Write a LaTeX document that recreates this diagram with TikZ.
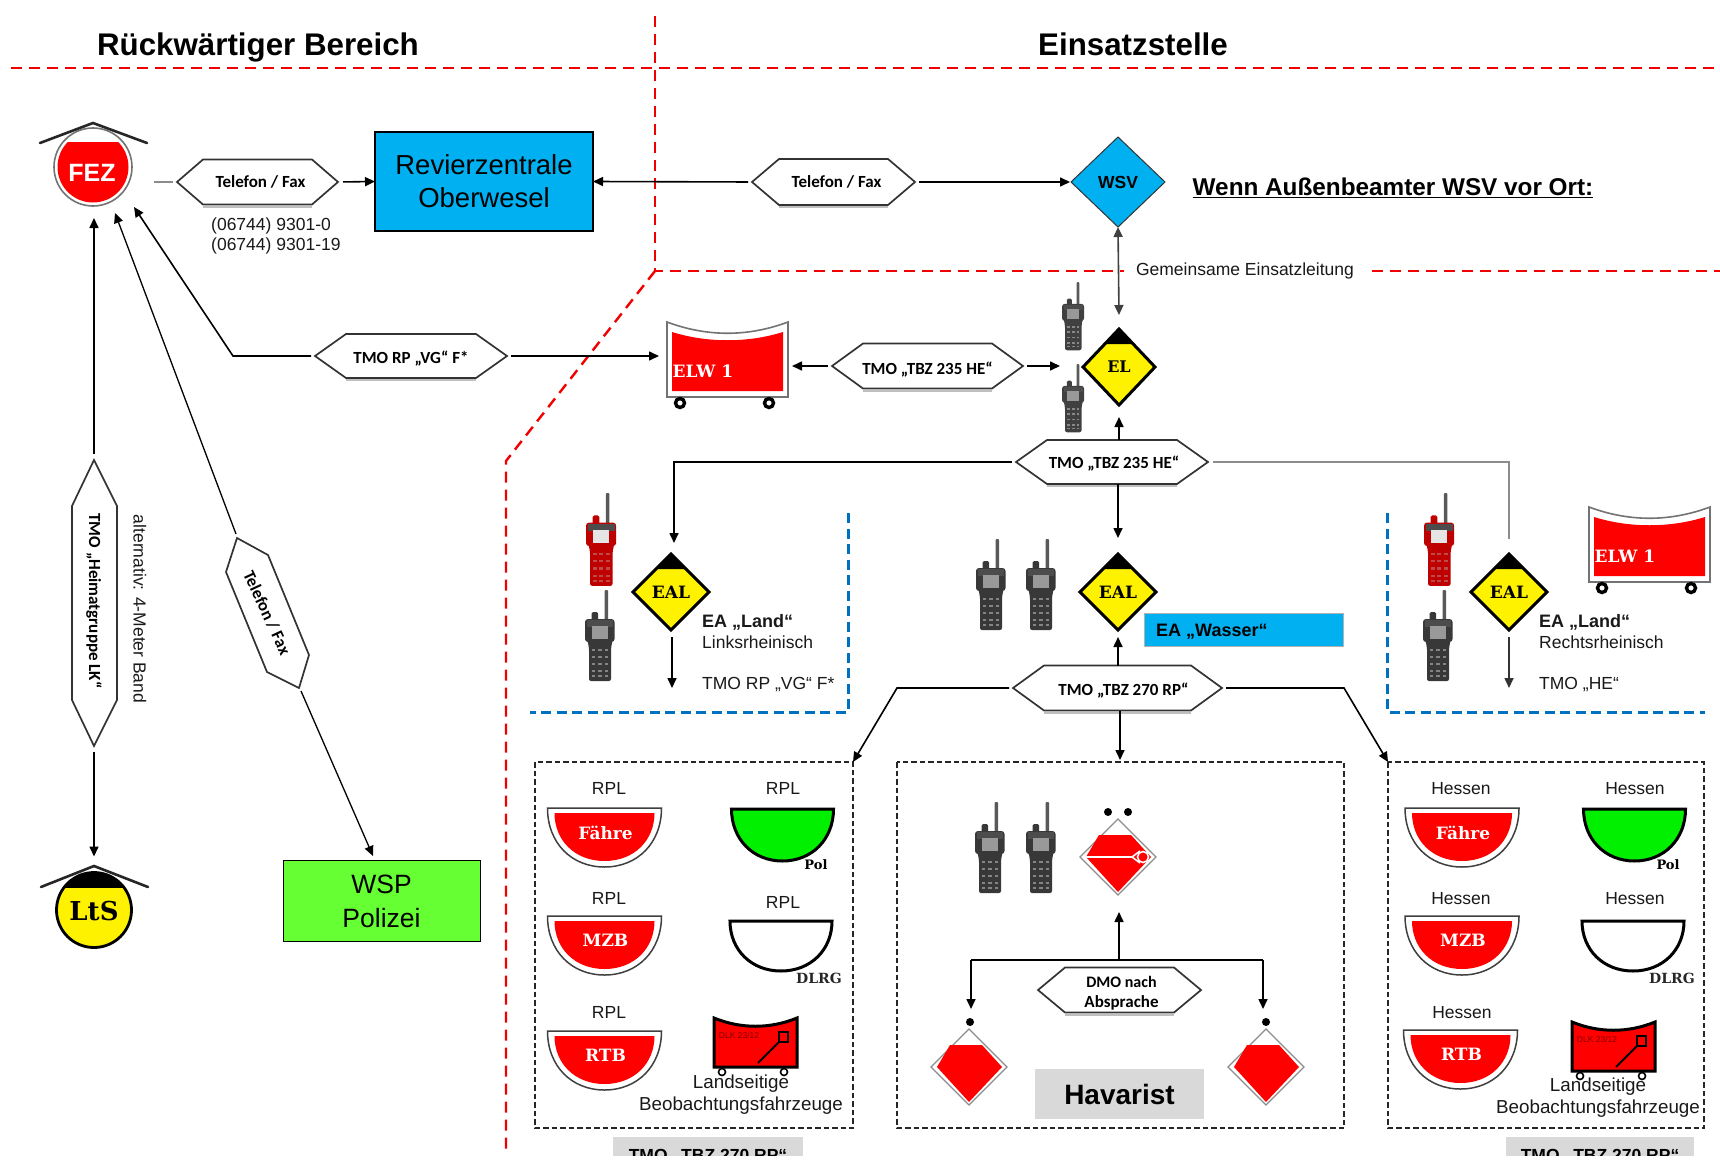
\documentclass[tikz,border=0pt]{standalone}
\usepackage{fontspec}
\setmainfont{Liberation Sans}
\newfontfamily\slabf{DejaVu Serif}
\newfontfamily\hexf{Carlito}
\usetikzlibrary{arrows.meta,shapes.geometric,calc}
\definecolor{cyanbox}{HTML}{00B0F0}
\definecolor{bluedash}{HTML}{0070C0}
\definecolor{wspgreen}{HTML}{66FF33}
\definecolor{greybox}{HTML}{D9D9D9}
\definecolor{boatgreen}{HTML}{00F000}
\newcommand\fsz[2]{\fontsize{#1}{#2}\selectfont}
\tikzset{
  conn/.style={line width=1.6pt,draw=black,-{Triangle[length=10pt,width=9pt]}},
  biconn/.style={line width=1.6pt,draw=black!75,{Triangle[length=10pt,width=9pt]}-{Triangle[length=10pt,width=9pt]}},
  plainconn/.style={line width=1.6pt,draw=black},
  greyconn/.style={line width=1.8pt,draw=black!45},
  reddash/.style={red!95!black,line width=2.4pt,dash pattern=on 11pt off 7pt},
  bluedashline/.style={bluedash,line width=3pt,dash pattern=on 10pt off 5.5pt},
  boxdash/.style={black!85,line width=1.5pt,dash pattern=on 5.5pt off 3pt},
  hexline/.style={draw=black!80,line width=1.7pt,fill=white,line join=miter},
  hextext/.style={font=\hexf\bfseries\fsz{17}{20},text=black,inner sep=0pt,align=center},
  lab/.style={font=\fsz{17.5}{21},inner sep=0pt,text=black!90,align=left},
  slab/.style={font=\slabf\bfseries\fsz{17}{20},inner sep=0pt},
  ydia/.style={diamond,draw=black,fill=yellow,line width=3pt,minimum width=76pt,minimum height=76pt,inner sep=0pt,outer sep=0pt},
  wheel/.style={draw=black,line width=3.4pt,fill=white},
}
% name cx cy w h shoulder textdx textdy text
\newcommand\hexa[9]{%
  \fill[black!25] ({#2-#4/2+#6},{#3+#5/2+1}) rectangle ({#2+#4/2-#6},{#3+#5/2+3});
  \draw[hexline] ({#2-#4/2},#3) -- ({#2-#4/2+#6},{#3-#5/2}) -- ({#2+#4/2-#6},{#3-#5/2}) -- ({#2+#4/2},#3) -- ({#2+#4/2-#6},{#3+#5/2}) -- ({#2-#4/2+#6},{#3+#5/2}) -- cycle;
  \node[minimum width=#4 pt,minimum height=#5 pt,inner sep=0pt,outer sep=0pt] (#1) at (#2,#3) {};
  \node[hextext] (#1t) at ({#2+#7},{#3+#8}) {#9};
}
% name cx top text
\newcommand\redboat[4]{%
  \draw[draw=black!75,line width=1.5pt,fill=white] ({#2-57},#3) -- ({#2+57},#3) .. controls ({#2+57},{#3+35}) and ({#2+33},{#3+59}) .. (#2,{#3+59}) .. controls ({#2-33},{#3+59}) and ({#2-57},{#3+35}) .. cycle;
  \fill[red] ({#2-50},{#3+5}) -- ({#2+50},{#3+5}) .. controls ({#2+50},{#3+32}) and ({#2+30},{#3+53}) .. (#2,{#3+53}) .. controls ({#2-30},{#3+53}) and ({#2-50},{#3+32}) .. cycle;
  \node[slab,text=white] (#1) at ({#2+1},{#3+24.5}) {#4};
}
% cx top halfwidth depth colour
\newcommand\bowl[5]{%
  \draw[draw=black,line width=3pt,fill=#5] ({#1-#3},#2) -- ({#1+#3},#2) .. controls ({#1+#3},{#2+#4*.58}) and ({#1+#3*.58},{#2+#4}) .. (#1,{#2+#4}) .. controls ({#1-#3*.58},{#2+#4}) and ({#1-#3},{#2+#4*.58}) .. cycle;
}
% name x0 top  (ELW)
\newcommand\elw[3]{%
  \draw[draw=black!55,line width=1.6pt,fill=white] (#2,#3) .. controls ({#2+40},{#3+15}) and ({#2+81},{#3+15}) .. ({#2+121},#3) -- ({#2+121},{#3+75}) -- (#2,{#3+75}) -- cycle;
  \fill[red] ({#2+5},{#3+10}) .. controls ({#2+40},{#3+21}) and ({#2+81},{#3+21}) .. ({#2+116},{#3+10}) -- ({#2+116},{#3+69}) -- ({#2+5},{#3+69}) -- cycle;
  \draw[wheel] ({#2+13},{#3+81}) circle (4.5);
  \draw[wheel] ({#2+102},{#3+81}) circle (4.5);
  \node[slab,text=white] (#1) at ({#2+36},{#3+49}) {ELW 1};
}
% x0 top (DLK)
\newcommand\dlk[2]{%
  \draw[wheel,line width=1.6pt] ({#1+8},{#2+54}) circle (3.5);
  \draw[wheel,line width=1.6pt] ({#1+70},{#2+54}) circle (3.5);
  \draw[draw=black,line width=3pt,fill=red] (#1,#2) .. controls ({#1+27},{#2+11}) and ({#1+56},{#2+11}) .. ({#1+83},#2) -- ({#1+83},{#2+49}) -- (#1,{#2+49}) -- cycle;
  \node[inner sep=0pt,font=\fsz{8.5}{10},text=red!50!black] at ({#1+25},{#2+17}) {DLK 23/12};
  \draw[black,line width=2.2pt] ({#1+65},{#2+14}) rectangle ({#1+74},{#2+24});
  \draw[black,line width=2pt] ({#1+65},{#2+24}) -- ({#1+44},{#2+45});
}
% x y scale bodycolour screen
\newcommand\phn[5]{%
  \begin{scope}[shift={(#1,#2)},x=#3pt,y=-#3pt]
    \fill[black!65,rounded corners=1pt] (19.5,0) rectangle (23,33);
    \fill[#4,rounded corners=1.5pt] (6.5,22) rectangle (13,33);
    \fill[#4,rounded corners=3pt] (0,29) rectangle (29.5,52);
    \fill[#4,rounded corners=2pt] (2,48) -- (28,48) -- (26,58) -- (26,91) -- (4,91) -- (4,58) -- cycle;
    \fill[black!70] (2,30) rectangle (28,37);
    \fill[#5] (7,36) rectangle (23,49);
    \foreach \kx in {8.5,15,21.5}{\foreach \ky in {60,67,74,81,86}{\fill[white!38!#4] (\kx-1.8,\ky-1.1) rectangle (\kx+1.8,\ky+1.1);}}
  \end{scope}%
}
% cx cy
\newcommand\reddia[2]{%
  \draw[draw=black!45,line width=1.3pt,fill=white] ({#1},{#2-38}) -- ({#1+38},#2) -- (#1,{#2+38}) -- ({#1-38},#2) -- cycle;
  \fill[red] ({#1-19},{#2-22}) -- ({#1+13},{#2-22}) -- ({#1+33},#2) -- (#1,{#2+35}) -- ({#1-32},#2) -- cycle;
}
\begin{document}
\begin{tikzpicture}[x=1pt,y=-1pt]
\useasboundingbox (0,0) rectangle (1720,1161);
\fill[white] (0,0) rectangle (1720,1161);

% zone lines
\begin{scope}
\clip (0,0) rectangle (1720,1154);
\draw[reddash] (11,68) -- (1720,68);
\draw[reddash] (655,16) -- (655,271) -- (1124,271);
\draw[reddash] (1372,271) -- (1720,271);
\draw[reddash] (655,271) -- (506,461) -- (506,1154);
\end{scope}
\node[inner sep=0pt,font=\bfseries\fsz{31.3}{38},anchor=base] (titleL) at (258,56) {Rückwärtiger Bereich};
\node[inner sep=0pt,font=\bfseries\fsz{31.3}{38},anchor=base] (titleR) at (1133,56) {Einsatzstelle};
\node[lab] (gemein) at (1245,271) {Gemeinsame Einsatzleitung};
\node[inner sep=0pt,font=\bfseries\fsz{24.3}{28}] (wenn) at (1393,187.5) {\underline{Wenn Außenbeamter WSV vor Ort:}};

% blue zones
\draw[bluedashline] (848,513) -- (848,712) -- (530,712);
\draw[bluedashline] (1387,513) -- (1387,712) -- (1705,712);
% black zones
\draw[boxdash] (535,762) rectangle (853,1128);
\draw[boxdash] (897,762) rectangle (1344,1128);
\draw[boxdash] (1388,762) rectangle (1704,1128);

% FEZ
\node[circle,draw=black!55,line width=1.6pt,fill=white,minimum size=78pt,inner sep=0pt,outer sep=0pt] (fez) at (93,167) {};
\begin{scope}
\clip (50,143) rectangle (136,210);
\fill[red] (93,167) circle (35.5);
\end{scope}
\node[inner sep=0pt,text=white,font=\bfseries\fsz{25}{30}] (fezt) at (92,173) {FEZ};
\draw[line width=2.6pt,black!85,line cap=round] (40,143) -- (93,123) -- (147,143);

% LtS
\node[circle,draw=black,line width=2.8pt,fill=yellow,minimum size=75pt,inner sep=0pt,outer sep=0pt] (lts) at (94,910) {};
\begin{scope}
\clip (50,860) rectangle (140,887);
\fill[black] (94,910) circle (37);
\end{scope}
\node[slab,text=black,font=\slabf\bfseries\fsz{26}{30}] (ltst) at (94,911) {LtS};
\draw[line width=2.6pt,black!85,line cap=round] (41,887) -- (94,866) -- (148,887);

% Boxes
\node[draw=black,line width=1.6pt,fill=cyanbox,minimum width=218pt,minimum height=99pt,inner sep=0pt,outer sep=0pt,align=center,font=\fsz{27.5}{33}] (rev) at (484,181.5) {\rule{0pt}{20pt}Revierzentrale\\Oberwesel};
\node[draw=black,line width=1pt,fill=wspgreen,minimum width=197pt,minimum height=81pt,inner sep=0pt,outer sep=0pt,align=center,font=\fsz{26.5}{34}] (wsp) at (381.5,900.5) {\rule{0pt}{21pt}WSP\\Polizei};
\node[diamond,draw=black!80,line width=1pt,fill=cyanbox,minimum width=94pt,minimum height=90pt,inner sep=0pt,outer sep=0pt,font=\bfseries\fsz{17.5}{20}] (wsv) at (1118,182) {WSV};

% Hexagons
\hexa{hA}{257.5}{182}{161}{45}{26}{3}{0}{Telefon / Fax}
\hexa{hB}{833.5}{182}{163}{46}{27}{3}{0}{Telefon / Fax}
\hexa{hC}{411}{356}{192}{44}{31}{0}{3}{TMO RP „VG“ F*}
\hexa{hD}{927.5}{366}{191}{45}{31}{0}{4}{TMO „TBZ 235 HE“}
\hexa{hE}{1112}{462}{192}{44}{31}{2}{2}{TMO „TBZ 235 HE“}
\hexa{hF}{1117.5}{688}{209}{45}{31}{6}{3}{TMO „TBZ 270 RP“}
\hexa{hG}{1119.5}{990}{163}{45}{27}{2}{3}{\fsz{16}{20}DMO nach\\Absprache}

% vertical hexagon
\draw[hexline] (94,460) -- (117,506) -- (117,700) -- (94,746) -- (72,700) -- (72,506) -- cycle;
\node[hextext,rotate=-90] (hV) at (94,601) {TMO „Heimatgruppe LK“};
\coordinate (hVtop) at (94,454);
\coordinate (hVbot) at (94,752);
\node[lab,rotate=-90] (alt) at (140,609) {alternativ: 4-Meter Band};

% slanted hexagon
\draw[hexline] (237,538) -- (268,555) -- (309,655) -- (299,688) -- (267,672) -- (226,572) -- cycle;
\node[hextext,rotate=-65] (hS) at (267,613) {Telefon / Fax};
\coordinate (hStop) at (236,534);
\coordinate (hSbot) at (301,691);

% Phone numbers
\node[lab,anchor=west,font=\fsz{17.5}{20}] (tel) at (211,236) {(06744) 9301-0\\(06744) 9301-19};

% ELW
\elw{elwA}{667}{322}
\elw{elwB}{1589}{507}

% EL + EAL
\node[ydia,font=\slabf\bfseries\fsz{16}{20},minimum width=72pt] (el) at (1119,367) {EL};
\fill[black] (1119,329) -- (1105,344) -- (1133,344) -- cycle;
\node[ydia,font=\slabf\bfseries\fsz{17}{20}] (ealA) at (671,592) {EAL};
\fill[black] (671,554) -- (656,569) -- (686,569) -- cycle;
\node[ydia,font=\slabf\bfseries\fsz{17}{20}] (ealB) at (1118,592) {EAL};
\fill[black] (1118,554) -- (1103,569) -- (1133,569) -- cycle;
\node[ydia,font=\slabf\bfseries\fsz{17}{20}] (ealC) at (1509,592) {EAL};
\fill[black] (1509,554) -- (1494,569) -- (1524,569) -- cycle;

% EA labels
\node[lab,anchor=west,font=\bfseries\fsz{18}{21}] (eaL) at (702,622) {EA „Land“};
\node[lab,anchor=west] (eaLb) at (702,642) {Linksrheinisch};
\node[lab,anchor=west] (eaLc) at (702,685) {TMO RP „VG“ F*};
\node[lab,anchor=west,font=\bfseries\fsz{18}{21}] (eaR) at (1539,622) {EA „Land“};
\node[lab,anchor=west] (eaRb) at (1539,642) {Rechtsrheinisch};
\node[lab,anchor=west] (eaRc) at (1539,685) {TMO „HE“};
\node[fill=cyanbox,draw=black!30,line width=.6pt,minimum width=199pt,minimum height=33pt,inner sep=0pt,outer sep=0pt] (eaW) at (1243.5,630) {};
\node[inner sep=0pt,anchor=west,font=\bfseries\fsz{18}{21}] (eaWt) at (1156,632) {EA „Wasser“};

% Phones
\phn{1062}{282}{.75}{black!75}{black!40}
\phn{1062}{364}{.75}{black!75}{black!40}
\phn{586}{493}{1.02}{red!75!black}{black!10}
\phn{585}{590}{1}{black!78}{black!40}
\phn{1424}{493}{1.02}{red!75!black}{black!10}
\phn{1423}{590}{1}{black!78}{black!40}
\phn{976}{539}{1}{black!78}{black!40}
\phn{1026}{539}{1}{black!78}{black!40}
\phn{975}{802}{1}{black!78}{black!40}
\phn{1026}{802}{1}{black!78}{black!40}

% Left boats
\node[lab,anchor=center] (l1) at (609,788) {RPL};
\node[lab,anchor=center] (l2) at (609,898) {RPL};
\node[lab,anchor=center] (l3) at (609,1012) {RPL};
\node[lab,anchor=center] (l4) at (783,788) {RPL};
\node[lab,anchor=center] (l5) at (783,902) {RPL};
\redboat{bA}{604.5}{808}{Fähre}
\redboat{bB}{604.5}{916}{MZB}
\redboat{bC}{604.5}{1031}{RTB}
\bowl{782.5}{809}{51}{52}{boatgreen}
\node[slab,font=\slabf\bfseries\fsz{13}{15}] (pL) at (816,865) {Pol};
\bowl{781}{921}{51}{50}{white}
\node[slab,font=\slabf\bfseries\fsz{14}{17},text=black!85] (dL) at (819,978) {DLRG};
\dlk{714}{1018}
\node[lab,anchor=center,align=center,font=\fsz{18.8}{22}] (landL) at (741,1095) {Landseitige\\Beobachtungsfahrzeuge};

% Right boats
\node[lab,anchor=center] (r1) at (1461,789) {Hessen};
\node[lab,anchor=center] (r2) at (1461,899) {Hessen};
\node[lab,anchor=center] (r3) at (1462,1013) {Hessen};
\node[lab,anchor=center] (r4) at (1635,789) {Hessen};
\node[lab,anchor=center] (r5) at (1635,899) {Hessen};
\redboat{bD}{1462}{808}{Fähre}
\redboat{bE}{1462}{916}{MZB}
\redboat{bF}{1460.5}{1030}{RTB}
\bowl{1634.5}{809}{51}{52}{boatgreen}
\node[slab,font=\slabf\bfseries\fsz{13}{15}] (pR) at (1668,865) {Pol};
\bowl{1633}{921}{51}{50}{white}
\node[slab,font=\slabf\bfseries\fsz{14}{17},text=black!85] (dR) at (1672,978) {DLRG};
\dlk{1572}{1022}
\node[lab,anchor=center,align=center,font=\fsz{18.8}{22}] (landR) at (1598,1098) {Landseitige\\Beobachtungsfahrzeuge};

% Havarist area
\reddia{1118}{857}
\draw[white,line width=2pt] (1086,857) -- (1132,857);
\draw[white,line width=1.6pt] (1132,857) -- (1140,851);
\draw[white,line width=1.6pt] (1132,857) -- (1140,863);
\draw[white,line width=1.6pt] (1143,857) circle (5.5);
\fill[black] (1108,812) circle (4);
\fill[black] (1128,812) circle (4);
\reddia{969}{1067}
\reddia{1266}{1067}
\node[circle,fill=black,minimum size=8pt,inner sep=0pt] (dotL) at (970,1022) {};
\node[circle,fill=black,minimum size=8pt,inner sep=0pt] (dotR) at (1266,1022) {};
\node[fill=greybox,minimum width=169pt,minimum height=50pt,inner sep=0pt,outer sep=0pt,font=\bfseries\fsz{28}{32}] (hav) at (1119.5,1094) {Havarist};

% bottom grey boxes
\begin{scope}
\clip (0,1000) rectangle (1720,1155);
\fill[greybox] (613,1137) rectangle (803,1161);
\fill[greybox] (1506,1137) rectangle (1694,1161);
\node[inner sep=0pt,font=\bfseries\fsz{17.5}{22},anchor=base] (gA) at (708,1161) {TMO „TBZ 270 RP“};
\node[inner sep=0pt,font=\bfseries\fsz{17.5}{22},anchor=base] (gB) at (1600,1161) {TMO „TBZ 270 RP“};
\end{scope}

% Connector helpers
\coordinate (tipFezV) at (94,218);
\coordinate (tipFezS) at (115,213);
\coordinate (tipFezR) at (134,207);
\coordinate (fezOut) at (154,182);
\coordinate (bendC) at (233,356);
\coordinate (bendE) at (674,462);
\coordinate (tipEalA) at (674,543);
\coordinate (bendE2) at (1509,462);
\coordinate (endEalC) at (1509,539);
\coordinate (tipWsp) at (373,856);
\coordinate (tipElwA) at (659,356);
\coordinate (tipElwD) at (792,366);
\coordinate (tipElD) at (1060,366);
\coordinate (bendFL) at (897,688);
\coordinate (bendFR) at (1344,688);
\coordinate (tipBoxL) at (853,762);
\coordinate (tipBoxR) at (1388,762);
\coordinate (tipBoxC) at (1120,760);
\coordinate (hubG) at (1119,960);
\coordinate (cornerGL) at (971,960);
\coordinate (cornerGR) at (1263,960);
\coordinate (tipEAL) at (672,688);
\coordinate (tipEAR) at (1509,688);
\coordinate (tipG) at (1119,912);
\coordinate (tipGL) at (971,1009);
\coordinate (tipGR) at (1263,1009);

% Connectors
\draw[greyconn] (fezOut) -- ([xshift=-4pt]hA.west);
\draw[conn,shorten <=5pt] (hA.east) -- (rev.west);
\draw[conn,shorten <=4pt] (hB.west) -- (rev.east);
\draw[conn,shorten <=4pt,shorten >=1pt] (hB.east) -- (wsv.west);
\draw[biconn] (wsv.south) -- ([yshift=14pt]el.north);
\draw[conn] (hVtop) -- (tipFezV);
\draw[conn] (hVbot) -- ([yshift=16pt]lts.north);
\draw[conn,line width=1.3pt] (hStop) -- (tipFezS);
\draw[conn,line width=1.3pt] (hSbot) -- (tipWsp);
\draw[conn,shorten <=4pt] (hC.west) -- (bendC) -- (tipFezR);
\draw[conn,shorten <=4pt] (hC.east) -- (tipElwA);
\draw[conn,shorten <=4pt] (hD.west) -- (tipElwD);
\draw[conn,shorten <=4pt] (hD.east) -- (tipElD);
\draw[conn] (hE.north -| el.south) -- ([yshift=-12pt]el.south);
\draw[conn,shorten <=4pt] (hE.west) -- (bendE) -- (tipEalA);
\draw[greyconn,shorten <=5pt] (hE.east) -- (bendE2) -- (endEalC);
\draw[conn] (hE.south -| ealB.north) -- ([yshift=16pt]ealB.north);
\draw[conn] (ealA.south) ++(1,7) -- (tipEAL);
\draw[conn,draw=black!80] (ealC.south) ++(0,7) -- (tipEAR);
\draw[conn] (hF.north -| ealB.south) -- ([yshift=-7pt]ealB.south);
\draw[conn,shorten <=4pt] (hF.west) -- (bendFL) -- (tipBoxL);
\draw[conn,shorten <=4pt] (hF.east) -- (bendFR) -- (tipBoxR);
\draw[conn] (hF.south -| tipBoxC) -- (tipBoxC);
\draw[conn] (hubG) -- (tipG);
\draw[conn] (cornerGL) -- (tipGL);
\draw[conn] (cornerGR) -- (tipGR);
\draw[plainconn] (cornerGL) -- (cornerGR);
\end{tikzpicture}
\end{document}
